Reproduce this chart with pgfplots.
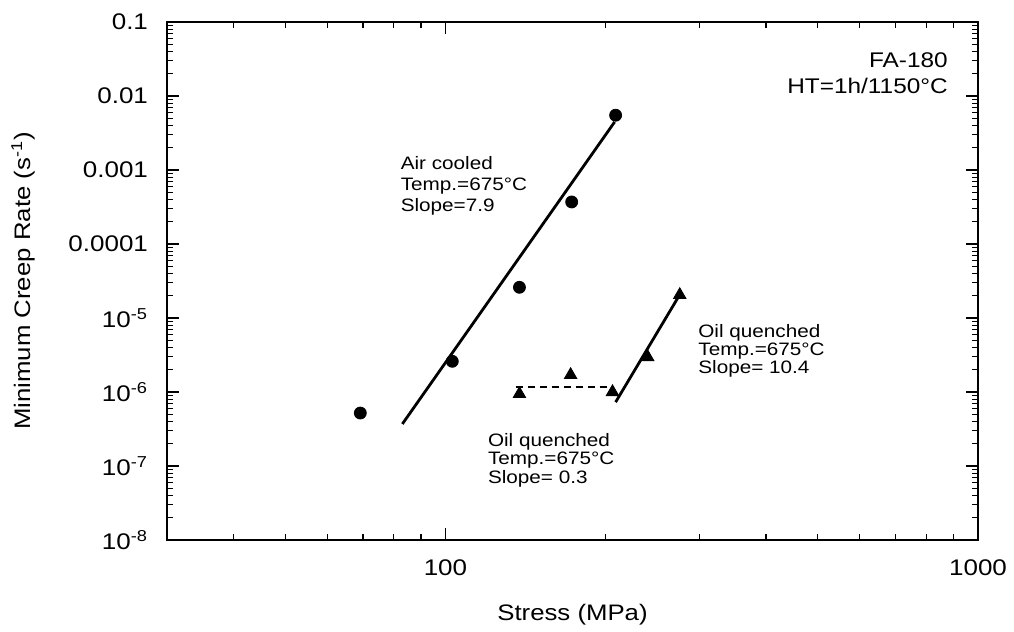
\documentclass[border=0pt]{standalone}
\usepackage{pgfplots}
\pgfplotsset{compat=1.18}
\usepackage{fontspec}
\setmainfont{Liberation Sans}[FakeStretch=1.15]
\begin{document}
\begin{tikzpicture}
\begin{axis}[
  at={(0,0)}, anchor=south west,
  scale only axis, width=405.5pt, height=259pt,
  xmode=log, ymode=log,
  xmin=30, xmax=1000, ymin=1e-8, ymax=0.1,
  xtick={100,1000}, xticklabels={100,1000},
  ytick={1e-8,1e-7,1e-6,1e-5,1e-4,1e-3,1e-2,1e-1},
  yticklabels={10\textsuperscript{-8},10\textsuperscript{-7},10\textsuperscript{-6},10\textsuperscript{-5},0.0001,0.001,0.01,0.1},
  minor xtick={40,50,60,70,80,90,200,300,400,500,600,700,800,900},
  minor ytick={2e-8,3e-8,4e-8,5e-8,6e-8,7e-8,8e-8,9e-8,
               2e-7,3e-7,4e-7,5e-7,6e-7,7e-7,8e-7,9e-7,
               2e-6,3e-6,4e-6,5e-6,6e-6,7e-6,8e-6,9e-6,
               2e-5,3e-5,4e-5,5e-5,6e-5,7e-5,8e-5,9e-5,
               2e-4,3e-4,4e-4,5e-4,6e-4,7e-4,8e-4,9e-4,
               2e-3,3e-3,4e-3,5e-3,6e-3,7e-3,8e-3,9e-3,
               2e-2,3e-2,4e-2,5e-2,6e-2,7e-2,8e-2,9e-2},
  tick align=inside,
  major tick length=6pt, minor tick length=3pt,
  every tick/.style={black, line width=0.6pt},
  axis line style={line width=1pt},
  tick label style={font=\fontsize{11.3}{13}\selectfont},
  xticklabel style={yshift=-6.5pt},
  yticklabel style={xshift=-6pt},
  xlabel={Stress (MPa)},
  ylabel={Minimum Creep Rate (s\textsuperscript{-1})},
  label style={font=\fontsize{11.2}{13}\selectfont},
  xlabel style={at={(axis description cs:0.5,-0.145)}, anchor=center},
  ylabel style={at={(axis description cs:-0.1776,0.5)}, anchor=center},
  clip=false,
]
% Air cooled data
\addplot[only marks, mark=*, mark size=3pt, black] coordinates {
 (69.2,5.2e-7) (103,2.6e-6) (137.7,2.6e-5) (172.6,3.7e-4) (208.7,5.5e-3)
};
% Air cooled fit
\addplot[black, line width=1.4pt] coordinates {(83.0,3.7e-7) (207.8,4.46e-3)};
% Oil quenched data
\addplot[only marks, mark=triangle*, mark size=3.6pt, black] coordinates {
 (137.7,9.4e-7) (171.8,1.7e-6) (205.9,1.0e-6) (239.7,2.97e-6) (275.4,2.05e-5)
};
% Oil quenched low-stress fit (dashed)
\addplot[black, line width=1pt, dash pattern=on 3.5pt off 2.5pt] coordinates {(135.4,1.17e-6) (206.9,1.17e-6)};
% Oil quenched high-stress fit
\addplot[black, line width=1.4pt] coordinates {(208.7,7.3e-7) (276.6,2.18e-5)};

\node[anchor=north west, inner sep=0pt, align=left, font=\fontsize{9}{10.5}\selectfont]
  at (axis cs:82.3,1.55e-3) {Air cooled\\Temp.=675\textdegree C\\Slope=7.9};
\node[anchor=north east, inner sep=0pt, align=right, font=\fontsize{10.6}{13}\selectfont]
  at (axis cs:879,0.0394) {FA-180\\HT=1h/1150\textdegree C};
\node[anchor=north west, inner sep=0pt, align=left, font=\fontsize{9}{9}\selectfont]
  at (axis cs:298,8.3e-6) {Oil quenched\\Temp.=675\textdegree C\\Slope= 10.4};
\node[anchor=north west, inner sep=0pt, align=left, font=\fontsize{9}{9.2}\selectfont]
  at (axis cs:120,2.8e-7) {Oil quenched\\Temp.=675\textdegree C\\Slope= 0.3};
\end{axis}
\pgfresetboundingbox
\path (-83.5pt,-46pt) rectangle (423.5pt,270pt);
\end{tikzpicture}
\end{document}
